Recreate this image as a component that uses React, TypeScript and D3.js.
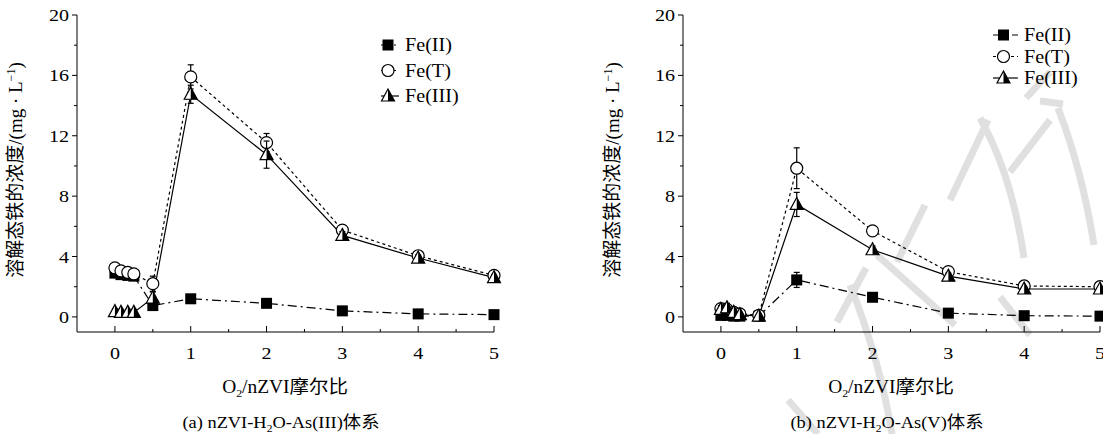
import React from 'react';
import * as d3 from 'd3';

// O2/nZVI molar ratio
const ratios = [0, 0.08, 0.17, 0.25, 0.5, 1, 2, 3, 4, 5];

// (a) nZVI-H2O-As(III)
const aFe2 = [2.9, 2.8, 2.75, 2.7, 0.75, 1.2, 0.9, 0.4, 0.2, 0.15];
const aFeT = [3.25, 3.05, 2.95, 2.85, 2.2, 15.9, 11.55, 5.75, 4.05, 2.75];
const aFe3 = [0.35, 0.3, 0.3, 0.3, 1.25, 14.75, 10.75, 5.4, 3.9, 2.6];
const aFe2Err = [0.15, 0.15, 0.15, 0.15, 0.1, 0.15, 0.1, 0.1, 0.05, 0.05];
const aFeTErr = [0.2, 0.25, 0.2, 0.2, 0.5, 0.8, 0.6, 0.25, 0.2, 0.2];
const aFe3Err = [0.2, 0.2, 0.2, 0.2, 0.4, 0.6, 0.9, 0.25, 0.2, 0.2];

// (b) nZVI-H2O-As(V)
const bFe2 = [0.1, 0.1, 0.05, 0.05, 0.05, 2.45, 1.3, 0.25, 0.08, 0.05];
const bFeT = [0.55, 0.5, 0.3, 0.2, 0.1, 9.85, 5.7, 3.0, 2.05, 2.0];
const bFe3 = [0.5, 0.6, 0.3, 0.15, 0.05, 7.45, 4.45, 2.7, 1.85, 1.85];
const bFe2Err = [0.1, 0.1, 0.05, 0.05, 0.05, 0.5, 0.15, 0.1, 0.05, 0.05];
const bFeTErr = [0.2, 0.2, 0.1, 0.1, 0.1, 1.35, 0.3, 0.2, 0.15, 0.15];
const bFe3Err = [0.25, 0.3, 0.1, 0.1, 0.05, 0.8, 0.25, 0.2, 0.15, 0.15];

const seriesNames = ['Fe(II)', 'Fe(T)', 'Fe(III)'];
const yTicks = [0, 4, 8, 12, 16, 20];
const yMinor = [2, 6, 10, 14, 18];
const xTicks = [0, 1, 2, 3, 4, 5];
const xMinor = [0.5, 1.5, 2.5, 3.5, 4.5];

// faint watermark strokes across the right panel
const watermark = [
    'M1040,101 L1063,104',
    'M1058,108 Q1082,170 1094,245',
    'M1050,72 L1026,98',
    'M980,118 Q1012,175 1024,258',
    'M1010,172 L1050,120',
    'M950,200 L988,120',
    'M897,262 L925,205',
    'M877,255 L955,325',
    'M837,322 L866,268',
    'M1000,297 L1030,335',
    'M850,285 Q880,360 892,434',
    'M788,400 L818,434',
];

const SERIF = '"Liberation Serif", "Times New Roman", "Noto Sans CJK SC", serif';
const dashes = ['9,4,2,4', '3,3', null];

function Marker({kind, x, y}: {kind: number; x: number; y: number}) {
    if (kind === 0)
        return <rect x={x - 5.5} y={y - 5.5} width={11} height={11} fill="#000" />;
    if (kind === 1)
        return <circle cx={x} cy={y} r={6} fill="#fff" stroke="#000" strokeWidth={1.2} />;
    return (
        <g>
            <path d={`M${x},${y - 7}L${x + 6.5},${y + 5}L${x - 6.5},${y + 5}Z`} fill="#fff" stroke="#000" strokeWidth={1.2} />
            <path d={`M${x},${y - 7}L${x + 6.5},${y + 5}L${x},${y + 5}Z`} fill="#000" />
        </g>
    );
}

// text stretched a little sideways, like the scanned figure
function T({x, y, sx = 1.18, size = 17, anchor = 'start', children}: any) {
    return (
        <text transform={`translate(${x},${y}) scale(${sx},1)`} textAnchor={anchor} fontSize={size} fontFamily={SERIF}>
            {children}
        </text>
    );
}

function Panel({left, data, errs, tag, system, legend, ylabX}: any) {
    const x = d3.scaleLinear().domain([-0.5, 5]).range([left, left + 417]);
    const y = d3.scaleLinear().domain([-1, 20]).range([332, 15]);
    const line = d3.line<number>().x((_, i) => x(ratios[i])).y((d) => y(d));
    const axisY = y(-1);
    const cx = left + 208;

    return (
        <g>
            {/* axes */}
            <line x1={left} x2={left} y1={y(20)} y2={axisY} stroke="#000" />
            <line x1={left} x2={x(5)} y1={axisY} y2={axisY} stroke="#000" />
            {yTicks.map((t) => (
                <g key={t}>
                    <line x1={left - 5} x2={left} y1={y(t)} y2={y(t)} stroke="#000" />
                    <T x={left - 8} y={y(t) + 6} anchor="end">{t}</T>
                </g>
            ))}
            {yMinor.map((t) => <line key={t} x1={left - 3} x2={left} y1={y(t)} y2={y(t)} stroke="#000" />)}
            {xTicks.map((t) => (
                <g key={t}>
                    <line x1={x(t)} x2={x(t)} y1={axisY - 6} y2={axisY} stroke="#000" />
                    <T x={x(t)} y={359} anchor="middle">{t}</T>
                </g>
            ))}
            {xMinor.map((t) => <line key={t} x1={x(t)} x2={x(t)} y1={axisY - 3} y2={axisY} stroke="#000" />)}

            {/* titles */}
            <text transform={`translate(${ylabX},170) rotate(-90)`} textAnchor="middle" fontSize={19} fontFamily={SERIF}>
                溶解态铁的浓度/(mg · L<tspan dy={-7} fontSize={12}>−1</tspan><tspan dy={7}>)</tspan>
            </text>
            <T x={cx} y={393} sx={1.08} size={18} anchor="middle">
                O<tspan dy={4} fontSize={11}>2</tspan><tspan dy={-4}>/nZVI摩尔比</tspan>
            </T>
            <T x={cx - 4} y={428} sx={1.05} size={17.5} anchor="middle">
                ({tag}) nZVI-H<tspan dy={4} fontSize={11}>2</tspan><tspan dy={-4}>O-As({system})体系</tspan>
            </T>

            {/* lines */}
            {data.map((s: number[], k: number) => (
                <path key={k} d={line(s) || ''} fill="none" stroke="#000" strokeWidth={1.2}
                    strokeDasharray={dashes[k] || undefined} />
            ))}
            {/* error bars + markers */}
            {data.map((s: number[], k: number) => (
                <g key={k}>
                    {s.map((v, i) => {
                        const px = x(ratios[i]);
                        const e = errs[k][i];
                        return (
                            <g key={i}>
                                <line x1={px} x2={px} y1={y(v + e)} y2={y(v - e)} stroke="#000" strokeWidth={1.2} />
                                <line x1={px - 3} x2={px + 3} y1={y(v + e)} y2={y(v + e)} stroke="#000" strokeWidth={1.2} />
                                <line x1={px - 3} x2={px + 3} y1={y(v - e)} y2={y(v - e)} stroke="#000" strokeWidth={1.2} />
                            </g>
                        );
                    })}
                    {s.map((v, i) => <Marker key={i} kind={k} x={x(ratios[i])} y={y(v)} />)}
                </g>
            ))}

            {/* legend */}
            {seriesNames.map((n, k) => {
                const ly = legend.y + k * legend.dy;
                return (
                    <g key={n}>
                        <line x1={legend.x} x2={legend.x + legend.w} y1={ly} y2={ly} stroke="#000" strokeWidth={1.2}
                            strokeDasharray={dashes[k] || undefined} />
                        <Marker kind={k} x={legend.x + legend.w / 2 - 2} y={ly} />
                        <T x={legend.x + legend.w + 6} y={ly + 6} sx={1.12} size={18}>{n}</T>
                    </g>
                );
            })}
        </g>
    );
}

export default function App() {
    return (
        <svg width={1103} height={434} style={{position: 'absolute', left: 0, top: 0, background: '#fff'}}>
            <g fill="none" stroke="#e0e0e0" strokeWidth={7} strokeLinecap="butt">
                {watermark.map((d, i) => <path key={i} d={d} />)}
            </g>
            <Panel left={77} data={[aFe2, aFeT, aFe3]} errs={[aFe2Err, aFeTErr, aFe3Err]} tag="a" system="III"
                legend={{x: 381, y: 45, dy: 25.5, w: 18}} ylabX={22} />
            <Panel left={683} data={[bFe2, bFeT, bFe3]} errs={[bFe2Err, bFeTErr, bFe3Err]} tag="b" system="V"
                legend={{x: 993, y: 35, dy: 21.5, w: 25}} ylabX={619} />
        </svg>
    );
}
